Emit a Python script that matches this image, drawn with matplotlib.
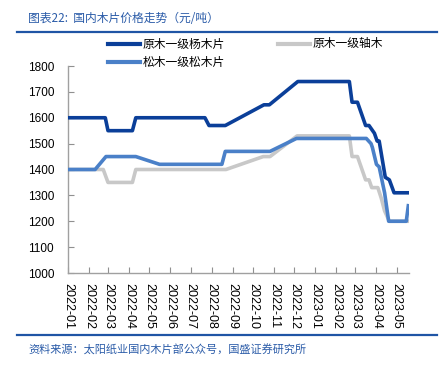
import matplotlib
matplotlib.use("Agg")
import matplotlib.pyplot as plt
import matplotlib.dates as mdates
import pandas as pd

plt.rcParams['font.family'] = ['Liberation Sans', 'Noto Sans CJK SC', 'DejaVu Sans']

# 原木一级杨木片 (poplar)
poplar_dates = ["2022-01-01", "2022-02-25", "2022-03-01", "2022-04-06", "2022-04-11",
                "2022-07-22", "2022-07-28", "2022-08-21", "2022-10-17", "2022-10-25",
                "2022-12-06", "2023-02-20", "2023-02-24", "2023-03-04", "2023-03-16",
                "2023-03-21", "2023-03-29", "2023-04-02", "2023-04-05", "2023-04-14",
                "2023-04-20", "2023-04-27", "2023-05-18"]
poplar_vals = [1600, 1600, 1550, 1550, 1600,
               1600, 1570, 1570, 1650, 1650,
               1740, 1740, 1660, 1660, 1570,
               1570, 1540, 1510, 1510, 1370,
               1360, 1310, 1310]

# 原木一级轴木 (gray)
axis_dates = ["2022-01-01", "2022-02-22", "2022-03-01", "2022-04-06", "2022-04-11",
              "2022-08-22", "2022-10-16", "2022-10-26", "2022-12-05", "2023-02-20",
              "2023-02-24", "2023-03-04", "2023-03-16", "2023-03-21", "2023-03-25",
              "2023-04-03", "2023-04-08", "2023-04-13", "2023-04-20", "2023-05-18"]
axis_vals = [1400, 1400, 1350, 1350, 1400,
             1400, 1450, 1450, 1530, 1530,
             1450, 1450, 1360, 1360, 1330,
             1330, 1290, 1240, 1200, 1200]

# 松木一级松木片 (pine)
pine_dates = ["2022-01-01", "2022-02-10", "2022-02-26", "2022-04-11", "2022-05-16",
              "2022-08-16", "2022-08-21", "2022-10-26", "2022-12-04", "2023-03-17",
              "2023-03-24", "2023-03-26", "2023-04-01", "2023-04-05", "2023-04-09",
              "2023-04-13", "2023-04-19", "2023-05-15", "2023-05-18"]
pine_vals = [1400, 1400, 1450, 1450, 1420,
             1420, 1470, 1470, 1520, 1520,
             1500, 1485, 1420, 1410, 1360,
             1310, 1200, 1200, 1260]

yticks = [1000, 1100, 1200, 1300, 1400, 1500, 1600, 1700, 1800]
month_ticks = pd.date_range("2022-01-01", "2023-05-01", freq="MS")
month_labels = [d.strftime("%Y-%m") for d in month_ticks]

fig = plt.figure(figsize=(4.47, 3.76), dpi=100)
ax = fig.add_axes([68/447, 1-273/376, (409-68)/447, (273-66)/376])

c_dark = "#0B3F99"
c_gray = "#C8C8C8"
c_mid = "#4A80C8"

ax.plot(pd.to_datetime(axis_dates), axis_vals, color=c_gray, lw=2.6, zorder=2)
ax.plot(pd.to_datetime(pine_dates), pine_vals, color=c_mid, lw=2.6, zorder=3)
ax.plot(pd.to_datetime(poplar_dates), poplar_vals, color=c_dark, lw=2.6, zorder=4)

ax.set_ylim(1000, 1800)
ax.set_yticks(yticks)
ax.set_xlim(pd.Timestamp("2022-01-01"), pd.Timestamp("2023-05-19"))
ax.set_xticks(month_ticks)
ax.set_xticklabels(month_labels, rotation=-90, fontsize=9)
ax.tick_params(axis='y', labelsize=8.5, direction='in', length=4, color='#909090', pad=10)
ax.tick_params(axis='x', direction='in', length=4, color='#909090', pad=7)
for s in ['top', 'right']:
    ax.spines[s].set_visible(False)
for s in ['left', 'bottom']:
    ax.spines[s].set_color('#A0A0A0')
    ax.spines[s].set_linewidth(1.0)

# legend
cjk = ['Noto Sans CJK SC', 'DejaVu Sans']
def leg(x0, y0, color, text):
    fig.add_artist(plt.Line2D([x0/447, (x0+32)/447], [1-y0/376, 1-y0/376], color=color, lw=3))
    fig.text((x0+35)/447, 1-y0/376, text, fontsize=8.5, family=cjk, va='center', ha='left')
leg(108, 44, c_dark, "原木一级杨木片")
leg(278, 44, c_gray, "原木一级轴木")
leg(108, 62, c_mid, "松木一级松木片")

title_color = "#2A5BA8"
fig.text(28/447, 1-18/376, "图表22:  国内木片价格走势（元/吨）", fontsize=8.5, family=cjk,
         style='italic', color=title_color, va='center', ha='left')
fig.add_artist(plt.Line2D([17/447, 437/447], [1-32/376, 1-32/376], color="#1F55A5", lw=1.6))
fig.add_artist(plt.Line2D([17/447, 437/447], [1-335/376, 1-335/376], color="#1F55A5", lw=1.6))
fig.text(28/447, 1-350/376, "资料来源：太阳纸业国内木片部公众号，国盛证券研究所", fontsize=8, family=cjk,
         style='italic', color=title_color, va='center', ha='left')

fig.savefig("out.png", dpi=100)
